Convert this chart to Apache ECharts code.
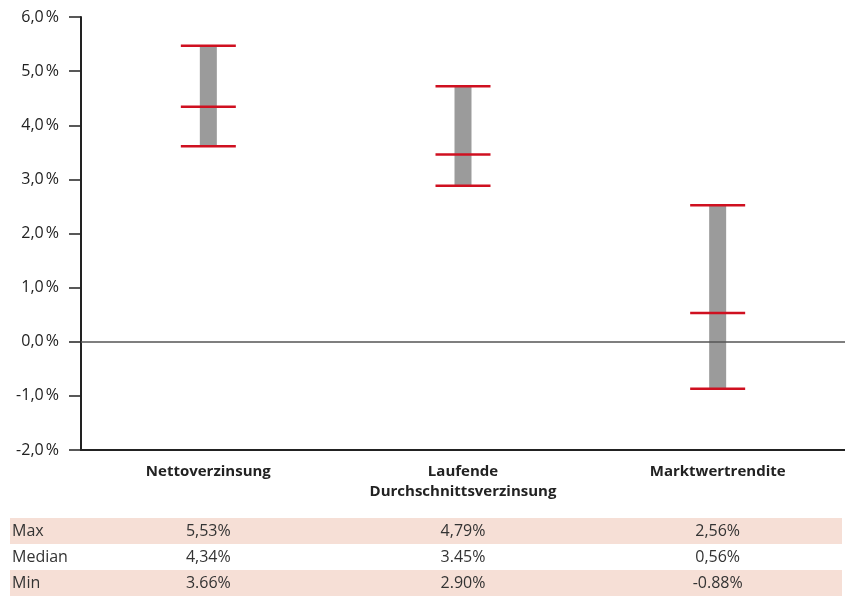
<!DOCTYPE html>
<html>
<head>
<meta charset="utf-8">
<script src="https://cdn.jsdelivr.net/npm/echarts@6/dist/echarts.min.js"></script>
<style>
  html, body { margin: 0; padding: 0; background: #fff; }
  #chart { width: 845px; height: 596px; }
</style>
</head>
<body>
<div id="chart"></div>
<script>
// categories and values (plotted marks)
var categories = ['Nettoverzinsung', 'Laufende\nDurchschnittsverzinsung', 'Marktwertrendite']
var maxValues = [5.47, 4.72, 2.52]
var medianValues = [4.34, 3.46, 0.53]
var minValues = [3.61, 2.88, -0.87]

// table below the chart, as printed
var rowNames = ['Max', 'Median', 'Min']
var maxLabels = ['5,53%', '4,79%', '2,56%']
var medianLabels = ['4,34%', '3.45%', '0,56%']
var minLabels = ['3.66%', '2.90%', '-0.88%']

var font = '"Open Sans", Lato, sans-serif'
var red = '#cf1020'
var myChart = echarts.init(document.getElementById('chart'))

var seriesData = categories.map(function (c, i) {
  return [i, minValues[i], medianValues[i], maxValues[i]]
})

// draws gray range bar plus three red caps
function renderItem (params, api) {
  var x = api.value(0)
  var pMin = api.coord([x, api.value(1)])
  var pMed = api.coord([x, api.value(2)])
  var pMax = api.coord([x, api.value(3)])
  var barW = 17
  var capW = 55
  function cap (p) {
    return {
      type: 'line',
      shape: { x1: p[0] - capW / 2, y1: p[1], x2: p[0] + capW / 2, y2: p[1] },
      style: { stroke: red, lineWidth: 2.5 }
    }
  }
  return {
    type: 'group',
    children: [
      {
        type: 'rect',
        shape: { x: pMax[0] - barW / 2, y: pMax[1], width: barW, height: pMin[1] - pMax[1] },
        style: { fill: '#9b9b9b' }
      },
      cap(pMax), cap(pMed), cap(pMin)
    ]
  }
}

var option = {
  animation: false,
  grid: { left: 81, right: 0, top: 17, bottom: 146 },
  xAxis: {
    type: 'category',
    data: categories,
    axisLine: { onZero: false, lineStyle: { color: '#222', width: 2 } },
    axisTick: { show: false },
    axisLabel: {
      margin: 12,
      fontFamily: font,
      fontWeight: 'bold',
      fontSize: 15,
      color: '#222',
      lineHeight: 20
    }
  },
  yAxis: {
    type: 'value',
    min: -2,
    max: 6,
    interval: 1,
    splitLine: { show: false },
    axisLine: { show: true, lineStyle: { color: '#222', width: 2 } },
    axisTick: { show: true, length: 12, lineStyle: { color: '#222', width: 1.5 } },
    axisLabel: {
      margin: 22,
      fontFamily: font,
      fontSize: 16,
      color: '#222',
      formatter: function (v) { return v.toFixed(1).replace('.', ',') + '\u202f%' }
    }
  },
  series: [
    {
      type: 'custom',
      renderItem: renderItem,
      data: seriesData,
      markLine: {
        silent: true,
        symbol: 'none',
        label: { show: false },
        lineStyle: { color: '#555', width: 1.5, type: 'solid' },
        data: [{ yAxis: 0 }]
      },
      z: 3
    }
  ]
}
myChart.setOption(option, true)

// build the table with the category centres from the axis
var rows = [maxLabels, medianLabels, minLabels]
var rowTop = [518, 544, 570]
var rowH = 26
var graphics = []
rows.forEach(function (labels, r) {
  if (r !== 1) {
    graphics.push({
      type: 'rect',
      shape: { x: 10, y: rowTop[r], width: 832, height: rowH },
      style: { fill: '#f6dfd6' },
      z: 0
    })
  }
  graphics.push({
    type: 'text',
    x: 12,
    y: rowTop[r] + rowH / 2,
    style: { text: rowNames[r], font: '16px ' + font, fill: '#333', verticalAlign: 'middle' },
    z: 1
  })
  labels.forEach(function (t, i) {
    var px = myChart.convertToPixel({ xAxisIndex: 0 }, i)
    graphics.push({
      type: 'text',
      x: px,
      y: rowTop[r] + rowH / 2,
      style: { text: t, font: '16px ' + font, fill: '#333', align: 'center', verticalAlign: 'middle' },
      z: 1
    })
  })
})
myChart.setOption({ graphic: graphics })
</script>
</body>
</html>
